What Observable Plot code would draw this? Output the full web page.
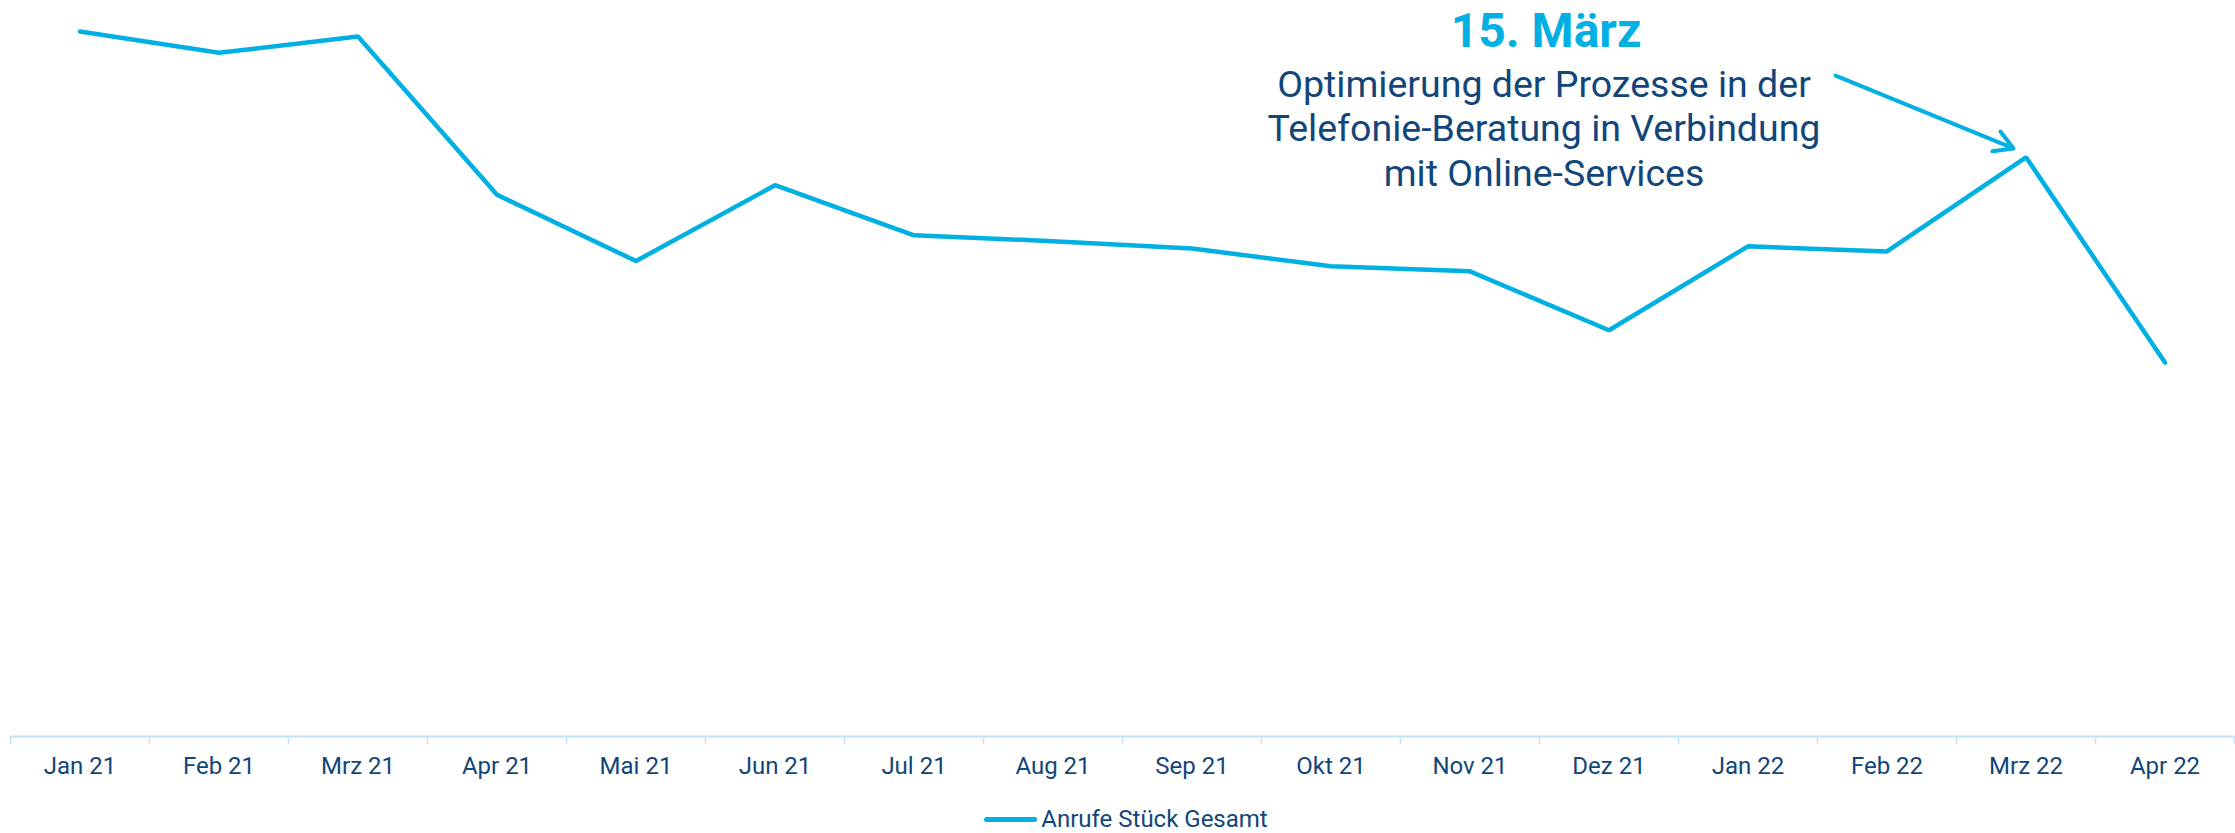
<!DOCTYPE html>
<html><head><meta charset="utf-8">
<script src="https://cdn.jsdelivr.net/npm/d3@7"></script>
<script src="https://cdn.jsdelivr.net/npm/@observablehq/plot@0.6"></script>
<style>
body{margin:0;background:#fff;font-family:Roboto,sans-serif;}
#legend{display:flex;justify-content:center;align-items:center;height:30px;margin-top:14px;padding-left:17px;color:#12467a;font-size:24px;}
.sw{display:inline-block;width:53px;height:5px;border-radius:3px;background:#00b0e2;margin-right:4px;}
</style></head><body>
<div id="chart"></div>
<div id="legend"><span class="sw"></span><span>Anrufe Stück Gesamt</span></div>
<script>
const months = ["Jan 21","Feb 21","Mrz 21","Apr 21","Mai 21","Jun 21","Jul 21","Aug 21","Sep 21","Okt 21","Nov 21","Dez 21","Jan 22","Feb 22","Mrz 22","Apr 22"];
const calls = [95800, 92900, 95100, 73600, 64600, 74900, 68100, 67300, 66300, 63900, 63200, 55200, 66600, 65900, 78700, 50800];
const noteMonth = "Mrz 22";
const noteTitle = "15. März";
const noteText = "Optimierung der Prozesse in der\nTelefonie-Beratung in Verbindung\nmit Online-Services";
const arrowFrom = {x: 13.13, y: 89800};
const arrowTo = {x: 14.41, y: 79900};

const lineColor = "#00b0e2";
const textColor = "#12467a";
const axisColor = "#c3e2f7";

const data = months.map((m, i) => ({month: m, pos: i + 0.5, value: calls[i]}));
const note = data.filter(d => d.month === noteMonth);
const bounds = d3.range(months.length + 1);

const chart = Plot.plot({
  width: 2235,
  height: 790,
  marginLeft: 10,
  marginRight: 1,
  marginTop: 0,
  marginBottom: 54,
  style: {fontFamily: "Roboto, sans-serif", background: "#fff", overflow: "visible"},
  x: {domain: [0, months.length]},
  y: {domain: [0, 100000], axis: null},
  marks: [
    Plot.ruleY([0], {stroke: axisColor, strokeWidth: 2}),
    Plot.axisX({ticks: bounds, tickSize: 8, tickFormat: () => "", label: null, stroke: axisColor, strokeWidth: 1.5}),
    Plot.text(data, {x: "pos", y: 0, text: "month", dy: 30, fontSize: 24, fill: textColor}),
    Plot.line(data, {x: "pos", y: "value", stroke: lineColor, strokeWidth: 4.5, strokeLinejoin: "miter", strokeLinecap: "round"}),
    Plot.arrow([{a: arrowFrom, b: arrowTo}], {x1: d => d.a.x, y1: d => d.a.y, x2: d => d.b.x, y2: d => d.b.y, stroke: lineColor, strokeWidth: 4, headLength: 8}),
    Plot.text(note, {x: "pos", y: "value", text: () => noteTitle, dx: -480, dy: -126, fontSize: 48, fontWeight: "bold", fill: lineColor}),
    Plot.text(note, {x: "pos", y: "value", text: () => noteText, dx: -482, dy: -30, fontSize: 37.5, lineHeight: 1.18, fill: textColor})
  ]
});
document.getElementById("chart").append(chart);
</script>
</body></html>
